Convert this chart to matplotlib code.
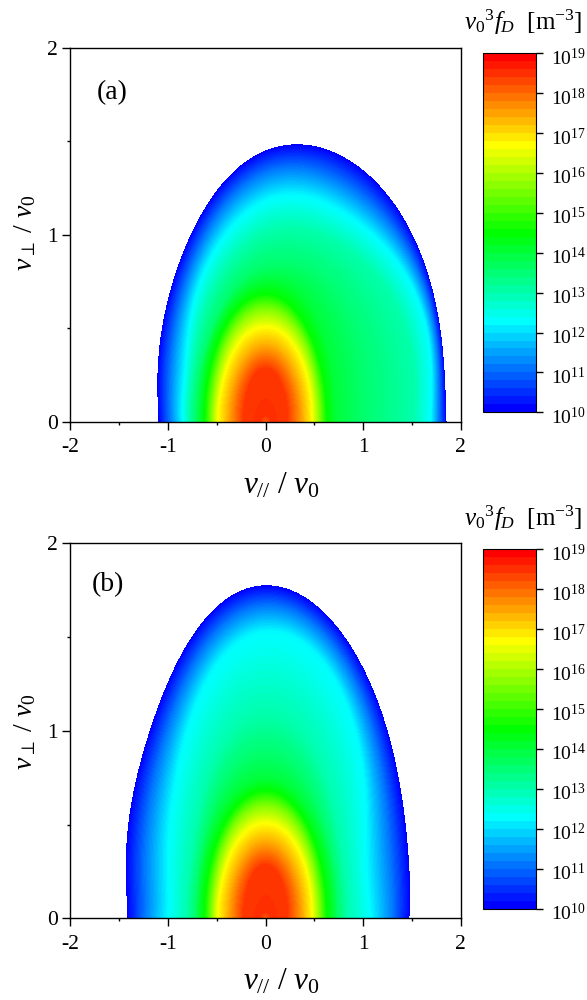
#!/usr/bin/env python3
import numpy as np
import matplotlib
matplotlib.use('Agg')
import matplotlib.pyplot as pl
from matplotlib.cm import ScalarMappable
from matplotlib.colors import BoundaryNorm, LinearSegmentedColormap
from matplotlib.transforms import ScaledTranslation

pl.rcParams['font.family'] = ['Liberation Serif', 'DejaVu Serif']
pl.rcParams['mathtext.fontset'] = 'custom'
pl.rcParams['mathtext.rm'] = 'Liberation Serif'
pl.rcParams['mathtext.it'] = 'Liberation Serif:italic'
pl.rcParams['mathtext.bf'] = 'Liberation Serif:bold'
pl.rcParams['axes.unicode_minus'] = False

# rays the contours were read along (degrees in data coordinates)
theta_deg = [0, 10, 20, 30, 40, 50, 60, 70, 80, 90, 100, 110, 120, 130, 140, 150, 160, 170, 180]

# log10(f) of each contour row, outermost first
row_levels = [10.0, 11.1, 12.25, 13.0, 13.6, 14.0, 14.5, 15.6, 16.75, 17.5, 18.0, 18.5, 18.55, 18.1]

# panel (a) outer contours, radius along each ray
a_r_10 = [1.846, 1.85, 1.84, 1.83, 1.75, 1.70, 1.63, 1.55, 1.50, 1.46, 1.38, 1.34, 1.29, 1.24, 1.21, 1.18, 1.15, 1.12, 1.09]
a_r_11 = [1.77, 1.79, 1.78, 1.74, 1.63, 1.56, 1.49, 1.42, 1.37, 1.33, 1.27, 1.23, 1.17, 1.13, 1.09, 1.05, 1.02, 0.99, 0.97]
a_r_12 = [1.69, 1.715, 1.70, 1.63, 1.49, 1.40, 1.34, 1.28, 1.22, 1.167, 1.13, 1.10, 1.04, 1.00, 0.96, 0.91, 0.87, 0.85, 0.84]
a_r_13 = [1.50, 1.53, 1.50, 1.42, 1.32, 1.22, 1.15, 1.10, 1.05, 1.00, 0.97, 0.93, 0.90, 0.87, 0.84, 0.81, 0.79, 0.78, 0.77]
a_r_136 = [0.95, 0.97, 0.98, 0.98, 0.96, 0.94, 0.91, 0.87, 0.84, 0.82, 0.80, 0.78, 0.76, 0.74, 0.72, 0.72, 0.71, 0.71, 0.71]
a_r_14 = [0.72, 0.72, 0.73, 0.74, 0.75, 0.76, 0.765, 0.765, 0.76, 0.75, 0.74, 0.73, 0.72, 0.71, 0.70, 0.69, 0.68, 0.67, 0.67]

# panel (b) outer contours
b_r_10 = [1.465, 1.49, 1.515, 1.55, 1.60, 1.65, 1.70, 1.72, 1.75, 1.795, 1.76, 1.70, 1.65, 1.60, 1.55, 1.51, 1.485, 1.45, 1.41]
b_r_11 = [1.29, 1.30, 1.325, 1.375, 1.47, 1.525, 1.58, 1.62, 1.65, 1.68, 1.64, 1.58, 1.515, 1.45, 1.39, 1.33, 1.29, 1.25, 1.23]
b_r_12 = [1.07, 1.06, 1.09, 1.16, 1.31, 1.37, 1.43, 1.49, 1.53, 1.54, 1.49, 1.43, 1.35, 1.27, 1.19, 1.11, 1.05, 1.01, 1.00]
b_r_13 = [0.83, 0.83, 0.84, 0.86, 0.90, 0.95, 1.00, 1.05, 1.07, 1.08, 1.07, 1.04, 0.99, 0.93, 0.88, 0.84, 0.81, 0.80, 0.80]
b_r_136 = [0.73, 0.73, 0.74, 0.75, 0.77, 0.79, 0.82, 0.84, 0.855, 0.86, 0.855, 0.84, 0.82, 0.79, 0.76, 0.74, 0.72, 0.71, 0.71]
b_r_14 = [0.695, 0.695, 0.70, 0.705, 0.71, 0.72, 0.73, 0.735, 0.74, 0.74, 0.74, 0.735, 0.73, 0.72, 0.71, 0.70, 0.69, 0.68, 0.68]

# inner rows look the same in both panels
core_r_145 = [0.62, 0.62, 0.625, 0.63, 0.64, 0.65, 0.66, 0.67, 0.675, 0.68, 0.675, 0.67, 0.66, 0.65, 0.64, 0.63, 0.625, 0.62, 0.62]
core_r_156 = [0.55, 0.55, 0.555, 0.56, 0.57, 0.58, 0.59, 0.595, 0.60, 0.60, 0.60, 0.595, 0.59, 0.58, 0.57, 0.56, 0.555, 0.55, 0.55]
core_r_1675 = [0.47, 0.47, 0.475, 0.48, 0.485, 0.49, 0.495, 0.50, 0.50, 0.50, 0.50, 0.50, 0.495, 0.49, 0.485, 0.48, 0.48, 0.48, 0.48]
core_r_175 = [0.37, 0.37, 0.372, 0.375, 0.38, 0.385, 0.39, 0.395, 0.40, 0.40, 0.40, 0.395, 0.39, 0.385, 0.38, 0.375, 0.372, 0.37, 0.37]
core_r_18 = [0.30, 0.30, 0.305, 0.31, 0.315, 0.32, 0.33, 0.335, 0.34, 0.34, 0.34, 0.335, 0.33, 0.32, 0.315, 0.31, 0.305, 0.30, 0.30]
core_r_185 = [0.22, 0.22, 0.225, 0.23, 0.24, 0.25, 0.26, 0.27, 0.28, 0.28, 0.28, 0.27, 0.26, 0.25, 0.24, 0.23, 0.225, 0.22, 0.22]
core_r_1855 = [0.06, 0.06, 0.055, 0.05, 0.045, 0.04, 0.04, 0.04, 0.04, 0.04, 0.04, 0.04, 0.04, 0.04, 0.045, 0.05, 0.055, 0.06, 0.06]
core_r_0 = [0, 0, 0, 0, 0, 0, 0, 0, 0, 0, 0, 0, 0, 0, 0, 0, 0, 0, 0]

x_ticks = [-2, -1, 0, 1, 2]
y_ticks = [0, 1, 2]
cbar_ticks = [10, 11, 12, 13, 14, 15, 16, 17, 18, 19]

W, H = 587.0, 1000.0
field_bands = 135
bar_bands = 45
stops = ['#0000ff', '#00ffff', '#00ff00', '#ffff00', '#ff0000']
field_cmap = LinearSegmentedColormap.from_list('field', stops, N=field_bands)
bar_cmap = LinearSegmentedColormap.from_list('bar', stops, N=bar_bands)


def px_axes(fig, left, right, top, bottom):
    return fig.add_axes([left / W, 1 - bottom / H, (right - left) / W, (bottom - top) / H])


def draw_panel(fig, top, bottom, bar_top, bar_bottom, outer_rows, name, name_xy, title_y, xlabel_y, ylabel_y):
    ax = px_axes(fig, 70.4, 460.8, top, bottom)
    cax = px_axes(fig, 482.9, 536.0, bar_top, bar_bottom)

    rows = outer_rows + [core_r_145, core_r_156, core_r_1675, core_r_175,
                         core_r_18, core_r_185, core_r_1855, core_r_0]
    # smooth each hand read contour along the angle
    t = np.array(theta_deg) / 90.0 - 1
    t_fine = np.linspace(-1, 1, 361)
    r = np.array([np.polyval(np.polyfit(t, row, 9), t_fine) for row in rows])
    phi = (t_fine + 1) * np.pi / 2
    X = r * np.cos(phi)
    Y = r * np.sin(phi)
    Z = np.repeat(np.array(row_levels)[:, None], len(t_fine), axis=1)

    cf = ax.contourf(X, Y, Z, levels=np.linspace(10, 19, field_bands + 1), cmap=field_cmap)
    cf.set_edgecolor('face')
    cf.set_linewidth(0.3)

    ax.set_xlim(-2, 2)
    ax.set_ylim(0, 2)
    ax.set_xticks(x_ticks)
    ax.set_yticks(y_ticks)
    ax.set_xticks(np.arange(-1.5, 2, 1), minor=True)
    ax.set_yticks([0.5, 1.5], minor=True)
    ax.tick_params(which='major', direction='out', length=5.5, width=1, labelsize=15.5)
    ax.tick_params(which='minor', direction='out', length=2.5, width=1)
    ax.tick_params(axis='x', which='major', pad=6.5)
    ax.tick_params(axis='y', which='major', pad=3.5)
    for s in ax.spines.values():
        s.set_linewidth(1)

    bounds = np.linspace(10, 19, bar_bands + 1)
    sm = ScalarMappable(norm=BoundaryNorm(bounds, bar_bands), cmap=bar_cmap)
    cb = fig.colorbar(sm, cax=cax, spacing='proportional')
    cb.set_ticks(cbar_ticks)
    cb.set_ticklabels([r'$\mathregular{10^{%d}}$' % c for c in cbar_ticks])
    cb.ax.tick_params(direction='out', length=5, width=1, labelsize=14, pad=5.5)
    cb.ax.minorticks_off()
    cb.outline.set_linewidth(0.8)
    # the exponent labels sit a little below their ticks
    shift = ScaledTranslation(0, -3 / 100.0, fig.dpi_scale_trans)
    for lab in cb.ax.get_yticklabels():
        lab.set_transform(lab.get_transform() + shift)

    fig.text(name_xy[0] / W, 1 - name_xy[1] / H, name, fontsize=20, ha='left', va='center')
    fig.text(582 / W, 1 - title_y / H, r'$v_0{}^3f_D$  [m$^{\mathregular{-3}}$]',
             fontsize=18, ha='right', va='baseline')
    fig.text(281 / W, 1 - xlabel_y / H, r'$v_{//}\ /\ v_0$', fontsize=22.5, ha='center', va='baseline')
    fig.text(25 / W, 1 - ylabel_y / H, r'$v_{\perp}\ /\ v_0$', fontsize=20, rotation=90,
             ha='center', va='center')


def main():
    fig = pl.figure(figsize=(5.87, 10.0), dpi=100)
    draw_panel(fig, 47.7, 421.7, 53.3, 412.3,
               [a_r_10, a_r_11, a_r_12, a_r_13, a_r_136, a_r_14],
               '(a)', (97, 93), 30, 493, 233)
    draw_panel(fig, 543.3, 918.3, 549.3, 908.7,
               [b_r_10, b_r_11, b_r_12, b_r_13, b_r_136, b_r_14],
               '(b)', (92, 585), 526, 990, 732)
    pl.savefig('out.png', dpi=100)
    pl.close()


if __name__ == '__main__':
    main()
